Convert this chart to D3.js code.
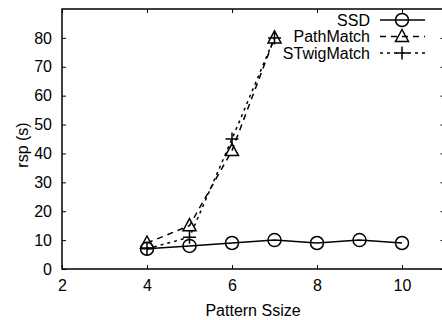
<!DOCTYPE html>
<html><head><meta charset="utf-8">
<script src="https://cdn.jsdelivr.net/npm/d3@7"></script>
<style>body{margin:0;background:#fff}svg{display:block}text{font-family:"Liberation Sans",Arial,sans-serif;fill:#000}</style>
</head><body><svg id="c" width="442" height="320"></svg>
<script>
const ssdX = [4,5,6,7,8,9,10];
const ssdY = [7,8,9,10,9,10,9];
const pathX = [4,5,6,7];
const pathY = [9,15,41,80];
const twigX = [4,5,6,7];
const twigY = [7,11,45,80];
const xTicks = [2,4,6,8,10];
const yTicks = [0,10,20,30,40,50,60,70,80];
const seriesNames = ["SSD","PathMatch","STwigMatch"];

const svg = d3.select("#c");
const L=62, R=444.5, T=9, B=269;
const x = d3.scaleLinear().domain([2,11]).range([L,R]);
const y = d3.scaleLinear().domain([0,90]).range([B,T]);

const g = svg.append("g");
g.append("rect").attr("x",L).attr("y",T).attr("width",R-L).attr("height",B-T)
 .attr("fill","none").attr("stroke","#000").attr("stroke-width",1.5);

const fs = 16;
const ax = g.append("g").attr("transform",`translate(0,${B})`)
 .call(d3.axisBottom(x).tickValues(xTicks).tickSize(-4).tickPadding(11).tickFormat(d3.format("d")));
const axT = g.append("g").attr("transform",`translate(0,${T})`)
 .call(d3.axisTop(x).tickValues(xTicks).tickSize(-4).tickFormat(""));
const ay = g.append("g").attr("transform",`translate(${L},0)`)
 .call(d3.axisLeft(y).tickValues(yTicks).tickSize(-4).tickPadding(10).tickFormat(d3.format("d")));
const ayR = g.append("g").attr("transform",`translate(${R},0)`)
 .call(d3.axisRight(y).tickValues(yTicks).tickSize(-4).tickFormat(""));
[ax,axT,ay,ayR].forEach(a=>{
  a.select(".domain").remove();
  a.selectAll("line").attr("stroke","#000").attr("stroke-width",1);
  a.selectAll("text").attr("font-size",fs).attr("font-family","Liberation Sans, Arial, sans-serif");
});

svg.append("text").attr("x",253).attr("y",316).attr("text-anchor","middle").attr("font-size",fs).text("Pattern Ssize");
svg.append("text").attr("transform","translate(28,145) rotate(-90)").attr("text-anchor","middle").attr("font-size",fs).text("rsp (s)");

const line = d3.line().x(d=>x(d[0])).y(d=>y(d[1]));
const series = [
  {name:seriesNames[0], pts:ssdX.map((v,i)=>[v,ssdY[i]]), dash:null, mk:"circle"},
  {name:seriesNames[1], pts:pathX.map((v,i)=>[v,pathY[i]]), dash:"6,5", mk:"tri"},
  {name:seriesNames[2], pts:twigX.map((v,i)=>[v,twigY[i]]), dash:"3,4", mk:"plus"}
];
function marker(sel, type, cx, cy){
  if(type==="circle") sel.append("circle").attr("cx",cx).attr("cy",cy).attr("r",6.5).attr("fill","none").attr("stroke","#000").attr("stroke-width",1.5);
  else if(type==="tri") sel.append("path").attr("d",`M${cx},${cy-7}L${cx+6.5},${cy+5}L${cx-6.5},${cy+5}Z`).attr("fill","none").attr("stroke","#000").attr("stroke-width",1.5);
  else sel.append("path").attr("d",`M${cx-6.5},${cy}H${cx+6.5}M${cx},${cy-6.5}V${cy+6.5}`).attr("fill","none").attr("stroke","#000").attr("stroke-width",1.5);
}
series.forEach(s=>{
  const p = g.append("path").attr("d",line(s.pts)).attr("fill","none").attr("stroke","#000").attr("stroke-width",1.5);
  if(s.dash) p.attr("stroke-dasharray",s.dash);
  s.pts.forEach(d=>marker(g,s.mk,x(d[0]),y(d[1])));
});
series.forEach((s,i)=>{
  const ly = 20 + i*16.5;
  svg.append("text").attr("x",370).attr("y",ly).attr("dy","0.35em").attr("text-anchor","end").attr("font-size",fs).text(s.name);
  const p = svg.append("line").attr("x1",380).attr("x2",425).attr("y1",ly).attr("y2",ly).attr("stroke","#000").attr("stroke-width",1.5);
  if(s.dash) p.attr("stroke-dasharray",s.dash);
  marker(svg,s.mk,402,ly);
});
</script></body></html>
